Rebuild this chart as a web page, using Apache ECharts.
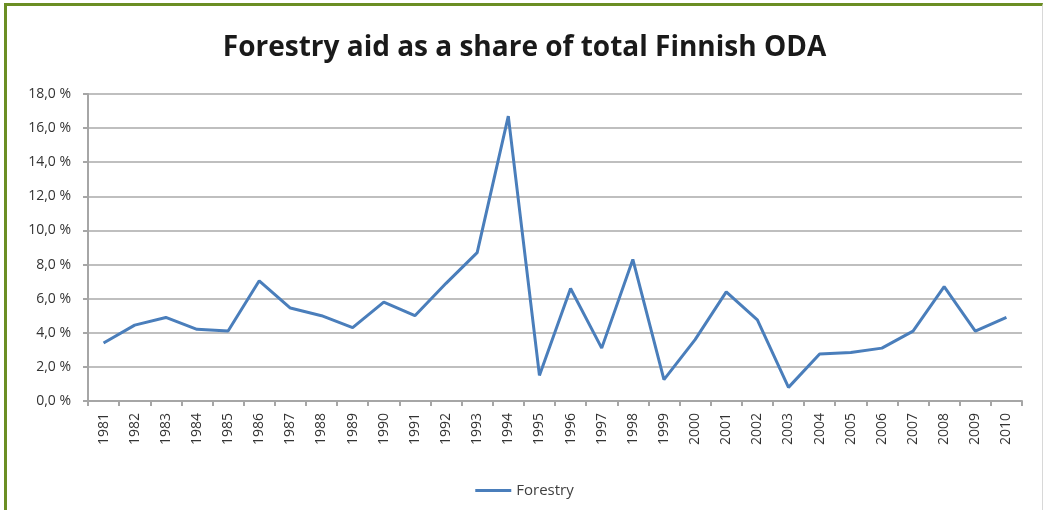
<!DOCTYPE html>
<html>
<head>
<meta charset="utf-8">
<script src="https://cdn.jsdelivr.net/npm/echarts@6/dist/echarts.min.js"></script>
<style>
html,body{margin:0;padding:0;background:#fff;}
#frame{position:absolute;left:4px;top:3px;width:1039px;height:507px;border-left:3px solid #6b8e23;border-top:3px solid #6b8e23;border-right:1px solid #d8d8d8;box-sizing:border-box;}
#chart{position:absolute;left:0;top:0;width:1049px;height:510px;}
</style>
</head>
<body>
<div id="frame"></div>
<div id="chart"></div>
<script>
var years = ['1981','1982','1983','1984','1985','1986','1987','1988','1989','1990','1991','1992','1993','1994','1995','1996','1997','1998','1999','2000','2001','2002','2003','2004','2005','2006','2007','2008','2009','2010'];
var forestry = [3.4,4.45,4.9,4.2,4.1,7.05,5.45,5.0,4.3,5.8,5.0,6.9,8.7,16.7,1.5,6.6,3.1,8.3,1.25,3.6,6.4,4.75,0.8,2.75,2.85,3.1,4.1,6.7,4.1,4.9];

var chart = echarts.init(document.getElementById('chart'), null, {renderer:'canvas'});
chart.setOption({
  backgroundColor: 'transparent',
  animation: false,
  title: {
    text: 'Forestry aid as a share of total Finnish ODA',
    left: 'center',
    top: 29,
    textStyle: {fontFamily: 'Open Sans', fontWeight: 'bold', fontSize: 28, color: '#1a1a1a'}
  },
  legend: {
    data: ['Forestry'],
    left: 'center',
    top: 478,
    itemWidth: 36,
    itemHeight: 3,
    itemGap: 4,
    icon: 'rect',
    textStyle: {fontFamily: 'Open Sans', fontSize: 15, color: '#404040'}
  },
  grid: {left: 88, right: 27, top: 94, bottom: 109, containLabel: false},
  xAxis: {
    type: 'category',
    data: years,
    boundaryGap: true,
    axisLine: {lineStyle: {color: '#a6a6a6', width: 2}},
    axisTick: {show: true, length: 5, lineStyle: {color: '#a6a6a6', width: 2}},
    axisLabel: {rotate: 90, interval: 0, margin: 12, fontFamily: 'Open Sans', fontSize: 14, color: '#333'}
  },
  yAxis: {
    type: 'value',
    min: 0,
    max: 18,
    interval: 2,
    axisLine: {show: true, lineStyle: {color: '#a6a6a6', width: 2}},
    axisTick: {show: true, length: 5, lineStyle: {color: '#a6a6a6', width: 2}},
    splitLine: {lineStyle: {color: '#bfbfbf', width: 2}},
    axisLabel: {
      margin: 17,
      fontFamily: 'Open Sans', fontSize: 14, color: '#333',
      formatter: function(v){ return v.toFixed(1).replace('.', ',') + ' %'; }
    }
  },
  series: [{
    name: 'Forestry',
    type: 'line',
    data: forestry,
    symbol: 'none',
    lineStyle: {color: '#4a7ebb', width: 3},
    itemStyle: {color: '#4a7ebb'}
  }]
});
</script>
</body>
</html>
